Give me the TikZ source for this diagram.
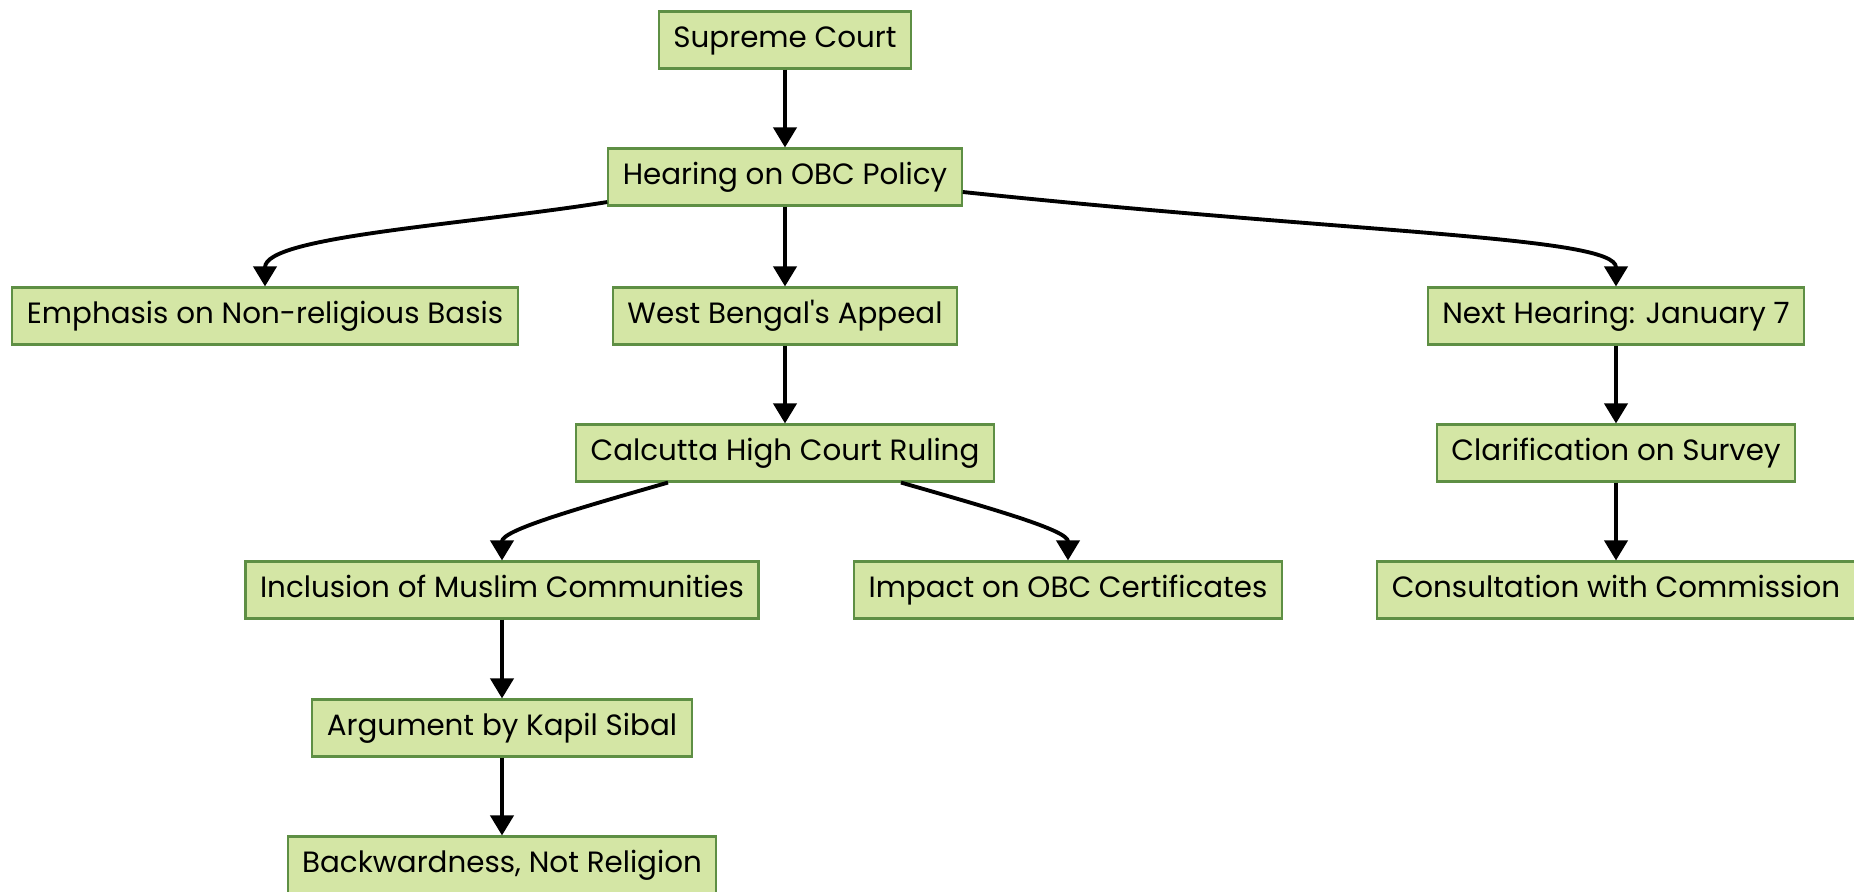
\documentclass[tikz,border=0pt]{standalone}
\usepackage{fontspec}
\setmainfont{Poppins}
\usetikzlibrary{arrows.meta}

\definecolor{boxfill}{HTML}{D4E6A5}
\definecolor{boxline}{HTML}{5E8F44}

\tikzset{
  topic/.style={rectangle,draw=boxline,fill=boxfill,line width=1.2pt,
    minimum height=1.14cm,inner xsep=0.29cm,text height=0.85em,text depth=0pt,
    font=\fontsize{16.7}{20}\selectfont},
  arr/.style={-{Triangle[width=0.46cm,length=0.4cm]},line width=2.2pt}
}

\begin{document}
\begin{tikzpicture}
	\useasboundingbox (0,0) rectangle (37.08,-17.84);
			\draw (15.70,-0.80) node [topic] (sup) {Supreme Court};
			\draw (15.70,-3.54) node [topic] (hear) {Hearing on OBC Policy};
			\draw (5.30,-6.32) node [topic] (emph) {Emphasis on Non-religious Basis};
			\draw (15.70,-6.32) node [topic] (wb) {West Bengal\textquotesingle s Appeal};
			\draw (32.32,-6.32) node [topic] (next) {Next Hearing: January 7};
			\draw (15.70,-9.06) node [topic] (calc) {Calcutta High Court Ruling};
			\draw (32.32,-9.06) node [topic] (clar) {Clarification on Survey};
			\draw (10.04,-11.80) node [topic] (incl) {Inclusion of Muslim Communities};
			\draw (21.36,-11.80) node [topic] (obc) {Impact on OBC Certificates};
			\draw (32.32,-11.80) node [topic] (cons) {Consultation with Commission};
			\draw (10.04,-14.56) node [topic] (kap) {Argument by Kapil Sibal};
			\draw (10.04,-17.30) node [topic] (back) {Backwardness, Not Religion};
			\path[arr]
				(sup) edge (hear)
				(hear) edge (wb)
				([yshift=0.09cm]hear.south west) edge [out=189,in=90,out distance=3cm,in distance=1cm] (emph)
				([yshift=-0.3cm]hear.east) edge [out=-6,in=90,out distance=8cm,in distance=1cm] (next)
				(wb) edge (calc)
				([xshift=-2.34cm]calc.south) edge [out=196,in=90,out distance=2cm,in distance=0.6cm] (incl)
				([xshift=2.32cm]calc.south) edge [out=-16,in=90,out distance=2cm,in distance=0.6cm] (obc)
				(incl) edge (kap)
				(kap) edge (back)
				(next) edge (clar)
				(clar) edge (cons);
		\end{tikzpicture}
\end{document}
